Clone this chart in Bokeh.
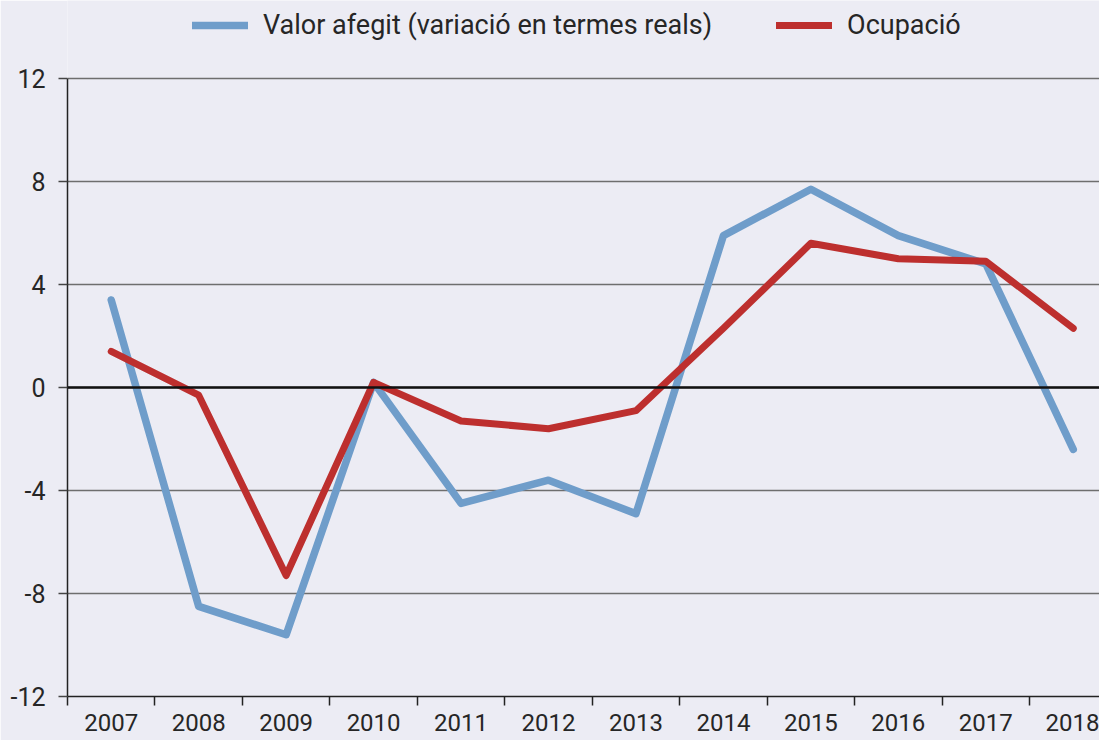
from bokeh.plotting import figure
from bokeh.models import (Range1d, FixedTicker, Span, Legend, LegendItem)
from bokeh.embed import file_html
from bokeh.resources import INLINE

years = ["2007", "2008", "2009", "2010", "2011", "2012", "2013",
         "2014", "2015", "2016", "2017", "2018"]
valor_afegit = [3.4, -8.5, -9.6, 0.2, -4.5, -3.6, -4.9, 5.9, 7.7, 5.9, 4.8, -2.4]
ocupacio = [1.4, -0.3, -7.3, 0.2, -1.3, -1.6, -0.9, 2.3, 5.6, 5.0, 4.9, 2.3]
y_ticks = [-12, -8, -4, 0, 4, 8, 12]
series_names = ["Valor afegit (variació en termes reals)", "Ocupació"]

BG = "#ECECF4"
BLUE = "#6F9DCA"
RED = "#BD2F2E"
FONT = "Roboto"
TXT = "#262626"

xs = list(range(len(years)))

# frame spans the legend area too; y axis and grid are bounded to -12..12
p = figure(frame_width=1032, frame_height=696, output_backend="svg",
           toolbar_location=None,
           x_range=Range1d(-0.5, 11.3), y_range=Range1d(-12, 15.03),
           min_border_left=67, min_border_right=0, min_border_top=0,
           min_border_bottom=44)
p.background_fill_color = BG
p.border_fill_color = BG
p.outline_line_color = None

r1 = p.line(xs, valor_afegit, line_color=BLUE, line_width=7.5,
            line_cap="round", line_join="round")
r2 = p.line(xs, ocupacio, line_color=RED, line_width=7,
            line_cap="round", line_join="round")

p.add_layout(Span(location=0, dimension="width", line_color="#111111",
                  line_width=2.5), "center")

# x axis
xa = p.xaxis[0]
xa.ticker = FixedTicker(ticks=xs, minor_ticks=[i - 0.5 for i in xs])
xa.major_label_overrides = {i: y for i, y in zip(xs, years)}
xa.major_tick_line_color = None
xa.major_tick_out = 8
xa.major_tick_in = 0
xa.minor_tick_line_color = "#222222"
xa.minor_tick_line_width = 1.5
xa.minor_tick_out = 9
xa.minor_tick_in = 0
xa.major_label_standoff = 8
xa.axis_line_color = "#222222"
xa.axis_line_width = 1.5
xa.major_label_text_font = FONT
xa.major_label_text_font_size = "24px"
xa.major_label_text_color = TXT

# y axis
ya = p.yaxis[0]
ya.ticker = FixedTicker(ticks=y_ticks)
ya.major_label_overrides = {t: str(t) for t in y_ticks}
ya.bounds = (-12, 12)
ya.minor_tick_line_color = None
ya.major_tick_line_color = "#444444"
ya.major_tick_line_width = 1.5
ya.major_tick_out = 9
ya.major_tick_in = 0
ya.major_label_standoff = 13
ya.axis_line_color = "#222222"
ya.axis_line_width = 1.5
ya.major_label_text_font = FONT
ya.major_label_text_font_size = "25px"
ya.major_label_text_color = TXT

p.xgrid.grid_line_color = None
p.ygrid.ticker = FixedTicker(ticks=y_ticks)
p.ygrid.grid_line_color = "#6E6E6E"
p.ygrid.grid_line_width = 1.5

legend = Legend(items=[LegendItem(label=series_names[0], renderers=[r1]),
                       LegendItem(label=series_names[1], renderers=[r2])],
                orientation="horizontal", location=(125, 655))
legend.background_fill_alpha = 0
legend.border_line_color = None
legend.label_text_font = FONT
legend.label_text_font_size = "27px"
legend.label_text_color = TXT
legend.glyph_width = 56
legend.label_standoff = 15
legend.spacing = 64
legend.padding = 4
legend.margin = 0
p.add_layout(legend, "center")

open("out.html", "w").write(file_html(p, INLINE))
